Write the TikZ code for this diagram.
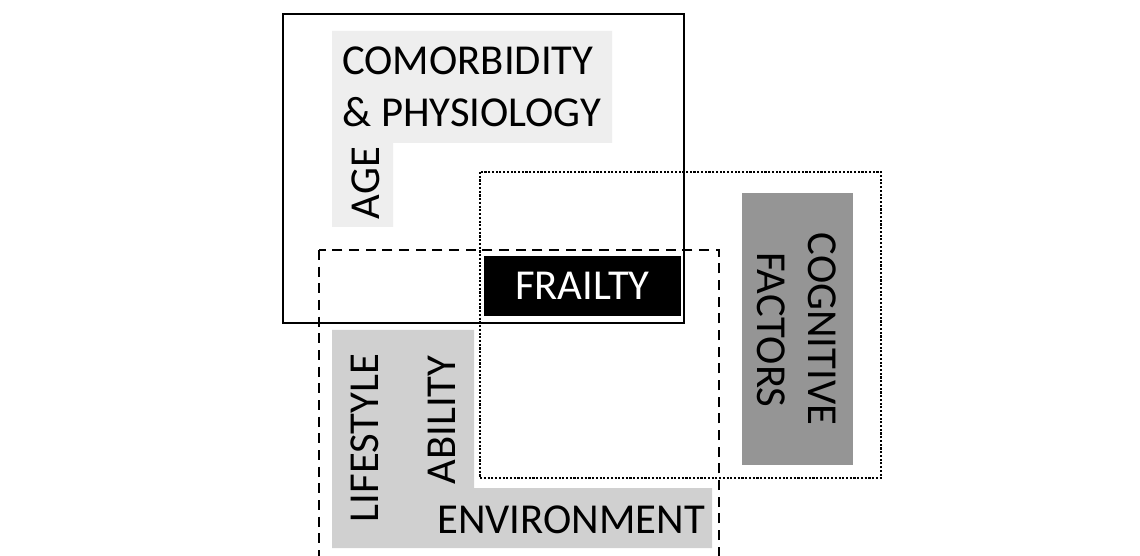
\documentclass[tikz,border=0pt]{standalone}
\usepackage{fontspec}
\setmainfont{Carlito}
\definecolor{lightgr}{HTML}{EEEEEE}
\definecolor{midgr}{HTML}{D0D0D0}
\definecolor{darkgr}{HTML}{959595}
\begin{document}
\begin{tikzpicture}[x=0.75pt,y=-0.75pt,
  font=\fontsize{32}{38}\selectfont,
  lbl/.style={inner sep=0pt, text=black},
  vlbl/.style={lbl, rotate=90, anchor=base},
  wlbl/.style={lbl, rotate=-90, anchor=base},
  frame/.style={line width=2pt, draw=black},
  dashframe/.style={frame, line width=1.8pt, dash pattern=on 7.5pt off 5pt},
  dotframe/.style={frame, line width=1.8pt, dash pattern=on 1.6pt off 1.2pt}]
\useasboundingbox (0,0) rectangle (1140,556);
\clip (0,0) rectangle (1140,556);
\fill[white] (0,0) rectangle (1140,556);
% shaded areas
\fill[lightgr] (332,31) -- (612,31) -- (612,143) -- (393,143) -- (393,227) -- (332,227) -- cycle;
\fill[midgr] (332,330) -- (474,330) -- (474,488) -- (712,488) -- (712,548) -- (332,548) -- cycle;
\node (cogbox) [fill=darkgr, inner sep=0pt, minimum width=83.25pt, minimum height=204pt] at (797.5,329) {};
\node (frailty) [fill=black, text=white, inner sep=0pt, minimum width=147.75pt, minimum height=45pt] at (582.5,286) {FRAILTY};
% frames
\draw[frame] (283,14) rectangle (684,323);
\draw[dashframe] (319,250) rectangle (719,620);
\draw[dotframe] (480,172) rectangle (881,478);
% labels
\node (comorb1) [lbl, anchor=base west] at (342,75) {COMORBIDITY};
\node (comorb2) [lbl, anchor=base west] at (342,127) {\& PHYSIOLOGY};
\node (age) [vlbl] at (379,183) {AGE};
\node (lifestyle) [vlbl] at (378,438) {LIFESTYLE};
\node (ability) [vlbl] at (455,420) {ABILITY};
\node (environment) [lbl, anchor=base west] at (437,533) {ENVIRONMENT};
\node (cog1) [wlbl] at (808,329) {COGNITIVE};
\node (cog2) [wlbl] at (757,330) {FACTORS};
\end{tikzpicture}
\end{document}
